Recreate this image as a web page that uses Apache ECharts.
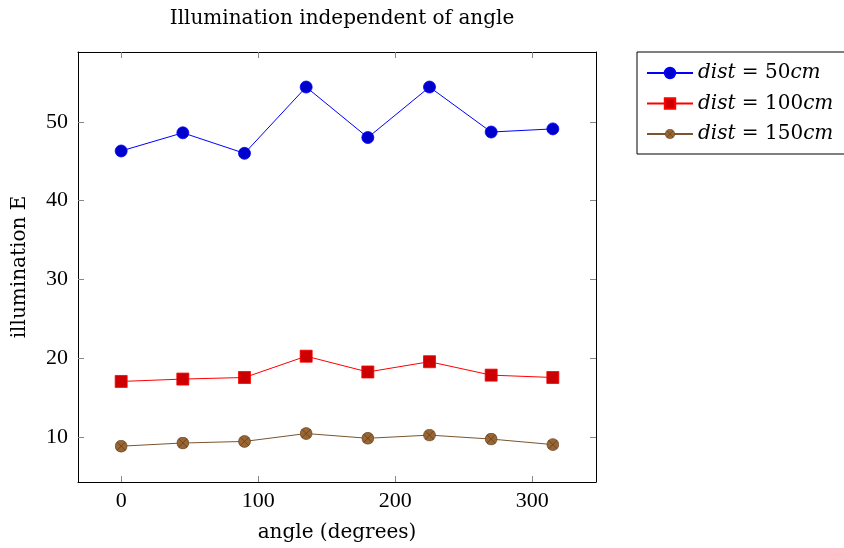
<!DOCTYPE html>
<html>
<head>
<meta charset="utf-8">
<script src="https://cdn.jsdelivr.net/npm/echarts@6/dist/echarts.min.js"></script>
<style>
  html, body { margin: 0; padding: 0; background: #fff; }
  #chart { width: 844px; height: 548px; }
</style>
</head>
<body>
<div id="chart"></div>
<script>
// angles in degrees
const angles = [0, 45, 90, 135, 180, 225, 270, 315];
const dist50 = [46.3, 48.6, 46.0, 54.4, 48.0, 54.4, 48.7, 49.1];
const dist100 = [17.1, 17.4, 17.6, 20.3, 18.3, 19.6, 17.9, 17.6];
const dist150 = [8.9, 9.3, 9.5, 10.5, 9.9, 10.3, 9.8, 9.1];
const distNames = ['50', '100', '150'];
const xTicks = [0, 100, 200, 300];
const yTicks = [10, 20, 30, 40, 50];

const FONT = 'DejaVu Serif';
const NUMFONT = 'Liberation Serif';

// circle with a cross (pgfplots otimes*)
const otimes = 'image://data:image/svg+xml;utf8,' + encodeURIComponent(
  '<svg xmlns="http://www.w3.org/2000/svg" width="24" height="24" viewBox="0 0 24 24">' +
  '<circle cx="12" cy="12" r="11" fill="#996633" stroke="#5c3d1f" stroke-width="1.2"/>' +
  '<path d="M4.3 4.3L19.7 19.7M19.7 4.3L4.3 19.7" stroke="#5c3d1f" stroke-width="1.4"/>' +
  '</svg>');

function pairs(ys) {
  return angles.map((a, i) => [a, ys[i]]);
}

const tickStyle = { inside: true, length: 6, lineStyle: { color: '#888', width: 1 } };

const xBase = {
  type: 'value', min: -31.5, max: 346.5,
  axisLine: { show: true, onZero: false, lineStyle: { color: '#000', width: 1 } },
  axisTick: Object.assign({ customValues: xTicks }, tickStyle),
  splitLine: { show: false }
};
const yBase = {
  type: 'value', min: 4.36, max: 58.84,
  axisLine: { show: true, onZero: false, lineStyle: { color: '#000', width: 1 } },
  axisTick: Object.assign({ customValues: yTicks }, tickStyle),
  splitLine: { show: false }
};

let option = {
  animation: false,
  backgroundColor: '#fff',
  textStyle: { fontFamily: FONT, color: '#000' },
  title: {
    text: 'Illumination independent of angle',
    left: 337, top: 4, textAlign: 'center',
    textStyle: { fontFamily: FONT, fontSize: 20, fontWeight: 'normal', color: '#000' }
  },
  grid: { left: 78, top: 52, width: 518, height: 430, containLabel: false },
  legend: {
    orient: 'vertical',
    left: 637, top: 52,
    padding: [11, 16, 10, 9],
    itemGap: 10.5,
    itemWidth: 46, itemHeight: 13,
    borderColor: '#000', borderWidth: 1,
    data: distNames,
    formatter: name => '{i|dist} = ' + name + '{i|cm}',
    textStyle: {
      fontFamily: FONT, fontSize: 20, color: '#000',
      rich: { i: { fontFamily: FONT, fontStyle: 'italic', fontSize: 20, color: '#000' } }
    }
  },
  xAxis: [
    Object.assign({}, xBase, {
      position: 'bottom',
      name: 'angle (degrees)', nameLocation: 'middle', nameGap: 41,
      nameTextStyle: { fontFamily: FONT, fontSize: 20, color: '#000' },
      axisLabel: { customValues: xTicks, fontFamily: NUMFONT, fontSize: 22, color: '#000', margin: 8 }
    }),
    Object.assign({}, xBase, { position: 'top', axisLabel: { show: false } })
  ],
  yAxis: [
    Object.assign({}, yBase, {
      position: 'left',
      name: 'illumination E', nameLocation: 'middle', nameGap: 48, nameRotate: 90,
      nameTextStyle: { fontFamily: FONT, fontSize: 20, color: '#000' },
      axisLabel: { customValues: yTicks, fontFamily: NUMFONT, fontSize: 22, color: '#000', margin: 10 }
    }),
    Object.assign({}, yBase, { position: 'right', axisLabel: { show: false } })
  ],
  series: [
    {
      name: distNames[0], type: 'line', data: pairs(dist50),
      symbol: 'circle', symbolSize: 12,
      lineStyle: { color: '#0000ff', width: 1 },
      itemStyle: { color: '#0000cc', borderColor: '#0000ff', borderWidth: 0.8 }
    },
    {
      name: distNames[1], type: 'line', data: pairs(dist100),
      symbol: 'rect', symbolSize: 12,
      lineStyle: { color: '#ff0000', width: 1 },
      itemStyle: { color: '#cc0000', borderColor: '#ff0000', borderWidth: 0.8 }
    },
    {
      name: distNames[2], type: 'line', data: pairs(dist150),
      symbol: otimes, symbolSize: 13,
      lineStyle: { color: '#7a5530', width: 1 },
      itemStyle: { color: '#996633' }
    }
  ]
};

document.addEventListener('DOMContentLoaded', function () {
  const myChart = echarts.init(document.getElementById('chart'));
  myChart.setOption(option);
});
</script>
</body>
</html>
